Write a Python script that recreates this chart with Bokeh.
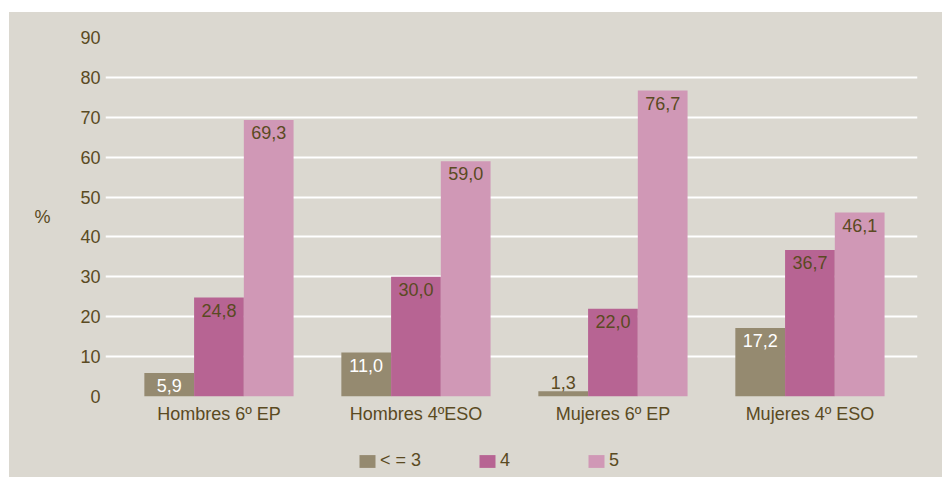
from bokeh.plotting import figure
from bokeh.layouts import column
from bokeh.models import ColumnDataSource, FixedTicker, Legend, LegendItem, Range1d, LabelSet
from bokeh.core.properties import value
from bokeh.embed import file_html
from bokeh.resources import INLINE

categories = ["Hombres 6º EP", "Hombres 4ºESO", "Mujeres 6º EP", "Mujeres 4º ESO"]
series_names = ["< = 3", "4", "5"]
v_le3 = [5.9, 11.0, 1.3, 17.2]
v_4 = [24.8, 30.0, 22.0, 36.7]
v_5 = [69.3, 59.0, 76.7, 46.1]
y_ticks = [0, 10, 20, 30, 40, 50, 60, 70, 80, 90]

colors = ["#958a70", "#b76493", "#d098b6"]
bg = "#dbd8d0"
text_dark = "#5a4a22"
FONT = "Liberation Sans"
FS = "18px"

W = 933
p = figure(width=W, height=428, output_backend="svg", toolbar_location=None,
           x_range=Range1d(-0.576, 3.546), y_range=Range1d(0, 90))
p.min_border_left = 96
p.min_border_right = 25
p.min_border_top = 25
p.min_border_bottom = 44
p.background_fill_color = bg
p.border_fill_color = bg
p.outline_line_color = None

bw = 0.2525
offsets = [-bw, 0.0, bw]
series = [v_le3, v_4, v_5]
for si, vals in enumerate(series):
    xs = [i + offsets[si] for i in range(len(categories))]
    labels = [f"{v:.1f}".replace(".", ",") for v in vals]
    src = ColumnDataSource(dict(x=xs, top=vals))
    p.vbar(x="x", top="top", width=bw, bottom=0, source=src,
           fill_color=colors[si], line_color=None)
    for b in ["top", "bottom"]:
        idx = [k for k in range(len(vals)) if (vals[k] < 3) == (b == "bottom")]
        if not idx:
            continue
        col = text_dark if (b == "bottom" or si > 0) else "#ffffff"
        sub = ColumnDataSource(dict(x=[xs[k] for k in idx], top=[vals[k] for k in idx],
                                    label=[labels[k] for k in idx]))
        ls = LabelSet(x="x", y="top", text="label", source=sub, text_align="center",
                      text_baseline=b, y_offset=(-6 if b == "top" else 2),
                      text_color=col, text_font=value(FONT), text_font_size=FS)
        p.add_layout(ls)

# axes
p.xaxis.ticker = FixedTicker(ticks=list(range(len(categories))))
p.xaxis.major_label_overrides = {i: c for i, c in enumerate(categories)}
p.yaxis.ticker = FixedTicker(ticks=y_ticks)
for ax in [p.xaxis[0], p.yaxis[0]]:
    ax.axis_line_color = None
    ax.major_tick_line_color = None
    ax.minor_tick_line_color = None
    ax.major_tick_out = 0
    ax.major_tick_in = 0
    ax.minor_tick_out = 0
    ax.major_label_text_font = FONT
    ax.major_label_text_font_size = FS
    ax.major_label_text_color = text_dark
p.xaxis.major_label_standoff = 7
p.yaxis.major_label_standoff = 5
p.yaxis.axis_label = "%"
p.yaxis.axis_label_orientation = "horizontal"
p.yaxis.axis_label_text_font = FONT
p.yaxis.axis_label_text_font_style = "normal"
p.yaxis.axis_label_text_font_size = FS
p.yaxis.axis_label_text_color = text_dark
p.yaxis.axis_label_standoff = 27

p.xgrid.grid_line_color = None
p.ygrid.grid_line_color = "#ffffff"
p.ygrid.grid_line_width = 2

# legend strip below the chart (its bars lie far outside its visible ranges)
p2 = figure(width=W, height=37, output_backend="svg", toolbar_location=None,
            x_range=Range1d(100, 101), y_range=Range1d(1000, 1001))
p2.min_border_left = 0
p2.min_border_right = 0
p2.min_border_top = 0
p2.min_border_bottom = 0
p2.background_fill_color = bg
p2.border_fill_color = bg
p2.outline_line_color = None
p2.axis.visible = False
p2.grid.visible = False

legend_x = [252, 372, 481]
for si, (n, c, lx) in enumerate(zip(series_names, colors, legend_x)):
    xs = [i + offsets[si] for i in range(len(categories))]
    r = p2.vbar(x=xs, top=series[si], bottom=0, width=bw, fill_color=c, line_color=None)
    lg = Legend(items=[LegendItem(label=n, renderers=[r])], orientation="horizontal",
                location=(lx, 6))
    lg.background_fill_alpha = 0
    lg.border_line_color = None
    lg.padding = 0
    lg.margin = 0
    lg.glyph_width = 20
    lg.glyph_height = 16
    lg.label_standoff = 3
    lg.label_text_font = FONT
    lg.label_text_font_size = FS
    lg.label_text_color = text_dark
    p2.add_layout(lg)

layout = column(p, p2, spacing=0)
layout.styles = {"margin-left": "9px", "margin-top": "12px", "background-color": bg}

open("out.html", "w").write(file_html(layout, INLINE))
